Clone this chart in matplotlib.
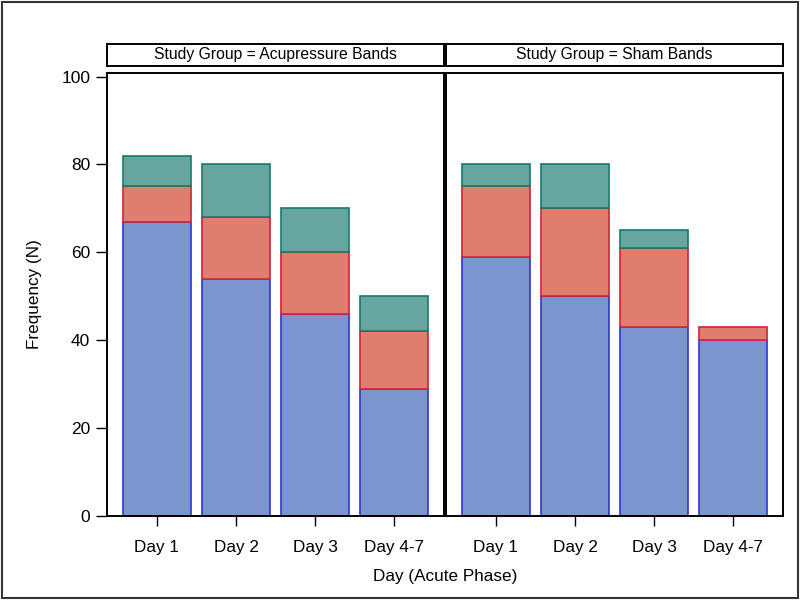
import matplotlib
matplotlib.use("Agg")
import matplotlib.pyplot as plt
from matplotlib.patches import Rectangle
import numpy as np

plt.rcParams['font.family'] = ['Liberation Sans', 'DejaVu Sans']

days = ["Day 1", "Day 2", "Day 3", "Day 4-7"]
groups = ["Acupressure Bands", "Sham Bands"]
# segment heights
acu_blue = [67, 54, 46, 29]
acu_red = [8, 14, 14, 13]
acu_green = [7, 12, 10, 8]
sham_blue = [59, 50, 43, 40]
sham_red = [16, 20, 18, 3]
sham_green = [5, 10, 4, 0]

data = {
    "Acupressure Bands": (acu_blue, acu_red, acu_green),
    "Sham Bands": (sham_blue, sham_red, sham_green),
}

fills = ["#7B95CD", "#DF7D6E", "#67A59F"]
edges = ["#3434D0", "#D0253A", "#17786C"]

fig = plt.figure(figsize=(8, 6), dpi=100)
W, H = 800, 600

def fr(x0, y0, x1, y1):
    return [x0 / W, 1 - y1 / H, (x1 - x0) / W, (y1 - y0) / H]

panels = [(107, 444), (446, 783)]
x = np.arange(len(days))
for i, (g, (px0, px1)) in enumerate(zip(groups, panels)):
    ax = fig.add_axes(fr(px0, 73, px1, 516))
    bottom = np.zeros(len(days))
    for vals, fc, ec in zip(data[g], fills, edges):
        v = np.array(vals, dtype=float)
        mask = v > 0
        ax.bar(x[mask], v[mask], width=0.86, bottom=bottom[mask], color=fc,
               edgecolor=ec, linewidth=1.2, zorder=2)
        bottom += v
    ax.set_xlim(-0.63, 3.63)
    ax.set_ylim(0, 100.8)
    ax.set_xticks(x)
    ax.set_xticklabels(days, fontsize=12.3)
    ax.tick_params(axis='x', direction='out', length=7, width=1, pad=10)
    for s in ax.spines.values():
        s.set_linewidth(1.4)
        s.set_color('black')
    if i == 0:
        ax.set_yticks([0, 20, 40, 60, 80, 100])
        ax.tick_params(axis='y', direction='out', length=8, width=1, labelsize=12.5, pad=4)
        ax.set_ylabel("Frequency (N)", fontsize=12.3, labelpad=14)
    else:
        ax.set_yticks([])
    # strip header
    sax = fig.add_axes(fr(px0, 44, px1, 66))
    sax.set_xticks([]); sax.set_yticks([])
    for s in sax.spines.values():
        s.set_linewidth(1.4)
        s.set_color('black')
    sax.text(0.5, 0.5, "Study Group = " + g, ha='center', va='center',
             fontsize=11.3, transform=sax.transAxes)

fig.text((107 + 783) / 2 / W, 1 - 576 / H, "Day (Acute Phase)", ha='center',
         va='center', fontsize=12.3)

fig.patches.append(Rectangle((0.002, 0.003), 0.996, 0.994, transform=fig.transFigure,
                             fill=False, edgecolor='#333333', linewidth=1.5))

fig.savefig("out.png", dpi=100)
